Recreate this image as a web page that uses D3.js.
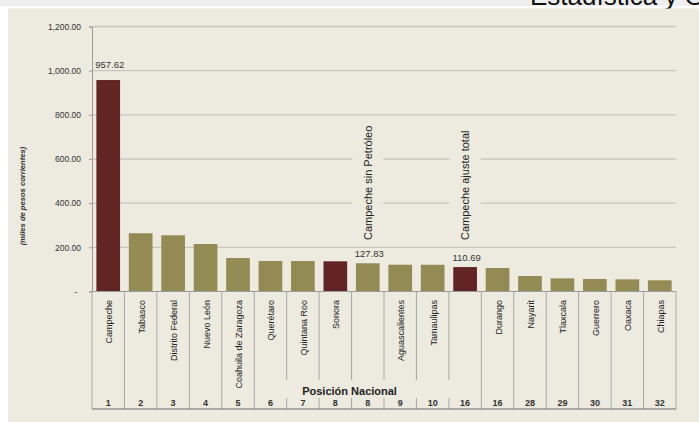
<!DOCTYPE html>
<html>
<head>
<meta charset="utf-8">
<script src="https://cdn.jsdelivr.net/npm/d3@7"></script>
<style>
  html, body { margin: 0; padding: 0; background: #ffffff; overflow: hidden; }
  svg { display: block; }
  text { font-family: "Liberation Sans", Arial, sans-serif; }
</style>
</head>
<body>
<svg id="chart" width="699" height="422"></svg>
<script>
// ---- data ----
const categories = ["Campeche","Tabasco","Distrito Federal","Nuevo León","Coahuila de Zaragoza","Querétaro","Quintana Roo","Sonora","Campeche sin Petróleo","Aguascalientes","Tamaulipas","Campeche ajuste total","Durango","Nayarit","Tlaxcala","Guerrero","Oaxaca","Chiapas"];
const axisLabels = ["Campeche","Tabasco","Distrito Federal","Nuevo León","Coahuila de Zaragoza","Querétaro","Quintana Roo","Sonora","","Aguascalientes","Tamaulipas","","Durango","Nayarit","Tlaxcala","Guerrero","Oaxaca","Chiapas"];
const values = [957.62, 263.6, 254.5, 215.0, 151.7, 138.2, 138.0, 136.7, 127.83, 121.2, 121.0, 110.69, 106.4, 70.2, 59.6, 56.6, 55.0, 50.7];
const ranks = ["1","2","3","4","5","6","7","8","8","9","10","16","16","28","29","30","31","32"];
const highlighted = [true,false,false,false,false,false,false,true,false,false,false,true,false,false,false,false,false,false];
const labelledBars = ["Campeche","Campeche sin Petróleo","Campeche ajuste total"];
const annotations = ["Campeche sin Petróleo","Campeche ajuste total"];
const yTicks = [0, 200, 400, 600, 800, 1000, 1200];
const yTitle = "(miles de pesos corrientes)";
const xTitle = "Posición Nacional";
const headerText = "Estadística y Geografía";

// ---- layout ----
const svg = d3.select("#chart");
const plotLeft = 92, plotRight = 676, plotTop = 26.5, baseY = 291.5, tableBottom = 409;

const colorBase = "#948a54", colorHi = "#632523";

// page background pieces
svg.append("rect").attr("x", 0).attr("y", 0).attr("width", 699).attr("height", 6).attr("fill", "#efefef");
svg.append("text").attr("x", 530).attr("y", 5).attr("font-size", 26).attr("fill", "#111")
  .text(headerText);
svg.append("rect").attr("x", 8).attr("y", 8.5).attr("width", 691).attr("height", 414).attr("fill", "#edeae0");

const x = d3.scaleBand().domain(categories).range([plotLeft, plotRight]).paddingInner(0.27).paddingOuter(0.135);
const y = d3.scaleLinear().domain([0, 1200]).range([baseY, plotTop]);
const step = x.step();

// gridlines
svg.append("g").selectAll("line").data(yTicks.filter(d => d > 0)).join("line")
  .attr("x1", plotLeft).attr("x2", plotRight)
  .attr("y1", d => y(d)).attr("y2", d => y(d))
  .attr("stroke", "#c9c6bf").attr("stroke-width", 1.3);

// y axis
const yAxis = svg.append("g").attr("transform", `translate(${plotLeft},0)`)
  .call(d3.axisLeft(y).tickValues(yTicks).tickSize(3).tickPadding(8)
    .tickFormat(d => d === 0 ? "-" : d3.format(",.2f")(d)));
yAxis.select(".domain").attr("stroke", "#9a9a9a");
yAxis.selectAll(".tick line").attr("stroke", "#9a9a9a");
yAxis.selectAll(".tick text").attr("font-size", 8.5).attr("fill", "#333")
  .attr("font-family", "'Liberation Sans', Arial, sans-serif")
  .attr("dx", d => d === 0 ? -4 : 0);

// y title
svg.append("text")
  .attr("transform", "translate(22,196) rotate(-90)")
  .attr("text-anchor", "middle").attr("dominant-baseline", "central")
  .attr("font-size", 7.6).attr("font-style", "italic").attr("font-weight", "bold").attr("fill", "#333")
  .text(yTitle);

// annotation background boxes (break gridlines) and rotated texts
annotations.forEach(name => {
  const cx = x(name) + x.bandwidth() / 2;
  svg.append("rect").attr("x", cx - 15.5).attr("y", 124).attr("width", 31).attr("height", 119)
    .attr("fill", "#edeae0");
  svg.append("text")
    .attr("transform", `translate(${cx},240) rotate(-90)`)
    .attr("text-anchor", "start").attr("dominant-baseline", "central")
    .attr("font-size", 11).attr("fill", "#1e1e1e")
    .text(name);
});

// bars
svg.append("g").selectAll("rect").data(categories).join("rect")
  .attr("x", d => x(d)).attr("width", x.bandwidth())
  .attr("y", (d, i) => y(values[i])).attr("height", (d, i) => baseY - y(values[i]))
  .attr("fill", (d, i) => highlighted[i] ? colorHi : colorBase);

// value labels
svg.append("g").selectAll("text").data(labelledBars).join("text")
  .attr("x", d => x(d) + x.bandwidth() / 2 + 1.5)
  .attr("y", d => { const i = categories.indexOf(d); return y(values[i]) - (i === 0 ? 12 : 6); })
  .attr("text-anchor", "middle").attr("font-size", 9.5).attr("fill", "#333")
  .text(d => d3.format(".2f")(values[categories.indexOf(d)]));

// baseline axis + category labels
const xAxis = svg.append("g").attr("transform", `translate(0,${baseY})`)
  .call(d3.axisBottom(x).tickSize(0).tickFormat((d, i) => axisLabels[i]));
xAxis.select(".domain").attr("stroke", "#9a9a9a").attr("d", `M${plotLeft},0H${plotRight}`);
xAxis.selectAll(".tick text")
  .attr("transform", "rotate(-90)")
  .attr("text-anchor", "end").attr("dominant-baseline", "central")
  .attr("x", -8.5).attr("y", 1).attr("dy", null)
  .attr("font-size", 9).attr("fill", "#222")
  .attr("font-family", "'Liberation Sans', Arial, sans-serif");

// table separator lines at band boundaries
const bounds = d3.range(categories.length + 1).map(i => plotLeft + i * step);
svg.append("g").selectAll("line").data(bounds).join("line")
  .attr("x1", d => d).attr("x2", d => d)
  .attr("y1", baseY).attr("y2", tableBottom)
  .attr("stroke", "#a8a8a8").attr("stroke-width", 1);

// bottom line
svg.append("line").attr("x1", plotLeft).attr("x2", plotRight).attr("y1", tableBottom).attr("y2", tableBottom)
  .attr("stroke", "#6a6a6a").attr("stroke-width", 1.2);

// x title box + text
const titleCx = plotLeft + 8 * step;
svg.append("rect").attr("x", plotLeft + 6 * step - 1.5).attr("y", 380).attr("width", 5 * step + 3).attr("height", 18)
  .attr("fill", "#edeae0");
svg.append("text").attr("x", titleCx - 2).attr("y", 395)
  .attr("text-anchor", "middle").attr("font-size", 11).attr("font-weight", "bold").attr("fill", "#222")
  .text(xTitle);

// rank numbers
svg.append("g").selectAll("text").data(categories).join("text")
  .attr("x", d => x(d) + x.bandwidth() / 2)
  .attr("y", 406)
  .attr("text-anchor", "middle").attr("font-size", 9).attr("font-weight", "bold").attr("fill", "#333")
  .text((d, i) => ranks[i]);
</script>
</body>
</html>
